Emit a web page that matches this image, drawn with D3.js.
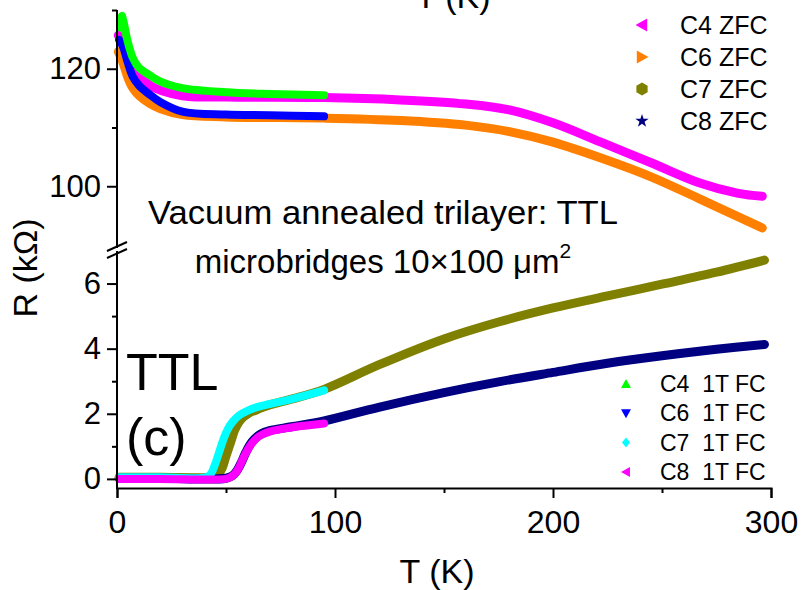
<!DOCTYPE html>
<html><head><meta charset="utf-8">
<script src="https://cdn.jsdelivr.net/npm/d3@7"></script>
<style>body{margin:0;background:#fff}svg{display:block}text{font-family:"Liberation Sans",Arial,sans-serif;fill:#000;white-space:pre}</style>
</head><body><svg id="c" width="803" height="590"></svg>
<script>
// ---- data ----
const xTicks = [0, 100, 200, 300];
const xMinor = [50, 150, 250];
const upperTicks = [100, 120];
const upperMinor = [110, 130];
const lowerTicks = [0, 2, 4, 6];
const lowerMinor = [1, 3, 5];

// upper panel (R in kOhm)
const c4zfcT = [0.6, 2.8, 7.3, 15, 30, 50, 95, 130, 160, 180, 200, 222, 245, 267, 285, 296];
const c4zfcR = [125.7, 124.3, 120.3, 117.2, 115.4, 115.2, 115.1, 114.7, 114.0, 113.0, 110.8, 107.5, 104.0, 100.6, 98.8, 98.3];
const c6zfcT = [0.6, 2.8, 5, 7.3, 10, 15, 20, 30, 50, 95, 130, 160, 180, 200, 222, 245, 267, 296];
const c6zfcR = [122.9, 121, 118.5, 116.7, 115.5, 114.1, 113.2, 112.2, 111.8, 111.6, 111.2, 110.4, 109.3, 107.5, 104.8, 101.6, 97.9, 92.9];
const c4fcT = [1.5, 2.2, 3, 5, 7.3, 10, 15, 20, 30, 50, 70, 95];
const c4fcR = [127, 129, 128, 124.5, 121.8, 120.2, 118.9, 117.8, 116.7, 116.0, 115.7, 115.5];
const c6fcT = [1, 2.8, 5, 7.3, 10, 15, 20, 30, 50, 70, 95];
const c6fcR = [124.9, 123.7, 121, 118.6, 117.2, 115.6, 114.3, 112.7, 112.2, 112.1, 111.9];

// lower panel
const c7zfcT = [1, 20, 44, 46, 48, 50, 52, 54, 56, 58, 60, 65, 70, 80, 95, 120, 150, 175, 200, 225, 250, 275, 297];
const c7zfcR = [0.05, 0.05, 0.05, 0.1, 0.3, 0.7, 1.1, 1.5, 1.75, 1.9, 2.0, 2.15, 2.27, 2.45, 2.75, 3.5, 4.3, 4.82, 5.25, 5.62, 5.98, 6.35, 6.72];
const c8zfcT = [1, 20, 50, 53, 55, 57, 59, 61, 63, 66, 70, 80, 95, 120, 150, 175, 200, 225, 250, 275, 297];
const c8zfcR = [0.02, 0.02, 0.02, 0.1, 0.25, 0.5, 0.8, 1.05, 1.22, 1.38, 1.48, 1.6, 1.78, 2.2, 2.65, 2.98, 3.27, 3.55, 3.78, 3.98, 4.13];
const c7fcT = [1, 20, 41, 43, 45, 47, 49, 51, 53, 56, 60, 65, 70, 80, 95];
const c7fcR = [0.05, 0.05, 0.05, 0.15, 0.45, 0.85, 1.25, 1.55, 1.75, 1.95, 2.1, 2.22, 2.3, 2.45, 2.72];
const c8fcT = [1, 20, 50, 52, 54, 56, 58, 60, 62, 65, 70, 80, 95];
const c8fcR = [0, 0, 0, 0.05, 0.15, 0.35, 0.65, 0.9, 1.1, 1.3, 1.45, 1.58, 1.7];

const legendTop = [
  {name: "C4 ZFC", color: "#ff00ff", sym: "left"},
  {name: "C6 ZFC", color: "#ff8000", sym: "right"},
  {name: "C7 ZFC", color: "#808000", sym: "hex"},
  {name: "C8 ZFC", color: "#000080", sym: "star"}
];
const legendBottom = [
  {name: "C4  1T FC", color: "#00ff00", sym: "up"},
  {name: "C6  1T FC", color: "#0000ff", sym: "down"},
  {name: "C7  1T FC", color: "#00ffff", sym: "diamond"},
  {name: "C8  1T FC", color: "#ff00ff", sym: "left"}
];

// ---- drawing ----
const svg = d3.select("#c");
const x = d3.scaleLinear().domain([0, 300]).range([117, 771]);
const yU = d3.scaleLinear().domain([90, 130]).range([245, 10]);
const yL = d3.scaleLinear().domain([-0.28, 7]).range([488, 251]);

function zip(T, R) { return T.map((t, i) => [t, R[i]]); }
function drawCurve(T, R, y, color, w) {
  const line = d3.line().x(d => x(d[0])).y(d => y(d[1])).curve(d3.curveCatmullRom.alpha(0.5));
  svg.append("path").attr("d", line(zip(T, R))).attr("fill", "none")
    .attr("stroke", color).attr("stroke-width", w).attr("stroke-linecap", "round").attr("stroke-linejoin", "round");
}

drawCurve(c6zfcT, c6zfcR, yU, "#ff8000", 9);
drawCurve(c4zfcT, c4zfcR, yU, "#ff00ff", 9);
drawCurve(c6fcT, c6fcR, yU, "#0000ff", 8);
drawCurve(c4fcT, c4fcR, yU, "#00ff00", 8);

drawCurve(c7zfcT, c7zfcR, yL, "#808000", 9);
drawCurve(c8zfcT, c8zfcR, yL, "#000080", 9);
drawCurve(c7fcT, c7fcR, yL, "#00ffff", 8);
drawCurve(c8fcT, c8fcR, yL, "#ff00ff", 8);

// axes
const FONT = "Liberation Sans, Arial, sans-serif";
const gx = svg.append("g").attr("transform", "translate(0,488)");
gx.call(d3.axisBottom(x).tickValues(xTicks).tickSize(10).tickFormat(d3.format("d")));
const gxm = svg.append("g").attr("transform", "translate(0,488)");
gxm.call(d3.axisBottom(x).tickValues(xMinor).tickSize(5).tickFormat(""));
gxm.select(".domain").remove();
gx.selectAll("text").attr("font-size", 32).attr("dy", "0").attr("y", 45).attr("font-family", FONT);

const gyU = svg.append("g").attr("transform", "translate(117,0)");
gyU.call(d3.axisLeft(yU).tickValues(upperTicks).tickSize(10).tickFormat(d3.format("d")));
const gyUm = svg.append("g").attr("transform", "translate(117,0)");
gyUm.call(d3.axisLeft(yU).tickValues(upperMinor).tickSize(5).tickFormat(""));
gyUm.select(".domain").remove();

const gyL = svg.append("g").attr("transform", "translate(117,0)");
gyL.call(d3.axisLeft(yL).tickValues(lowerTicks).tickSize(10).tickFormat(d3.format("d")));
const gyLm = svg.append("g").attr("transform", "translate(117,0)");
gyLm.call(d3.axisLeft(yL).tickValues(lowerMinor).tickSize(5).tickFormat(""));
gyLm.select(".domain").remove();

[gx, gxm, gyU, gyUm, gyL, gyLm].forEach(g => {
  g.selectAll("path.domain").attr("stroke", "#000").attr("stroke-width", 2);
  g.selectAll("line").attr("stroke", "#000").attr("stroke-width", 2);
});
[gyU, gyL].forEach(g => {
  g.selectAll("path.domain").remove();
  g.selectAll("text").attr("font-size", 31).attr("x", -16).attr("font-family", FONT);
});
// axis lines with break
svg.append("line").attr("x1", 117).attr("x2", 117).attr("y1", yU.range()[1]).attr("y2", 248).attr("stroke", "#000").attr("stroke-width", 2);
svg.append("line").attr("x1", 117).attr("x2", 117).attr("y1", 251).attr("y2", 489).attr("stroke", "#000").attr("stroke-width", 2);
// break marks
svg.append("line").attr("x1", 107).attr("y1", 251).attr("x2", 127).attr("y2", 242).attr("stroke", "#000").attr("stroke-width", 2);
svg.append("line").attr("x1", 107).attr("y1", 258).attr("x2", 127).attr("y2", 249).attr("stroke", "#000").attr("stroke-width", 2);

// axis titles
svg.append("text").attr("x", 437).attr("y", 583).attr("text-anchor", "middle").attr("font-size", 34).text("T (K)");
svg.append("text").attr("x", 453).attr("y", 8).attr("text-anchor", "middle").attr("font-size", 34).text("T (K)");
svg.append("text").attr("transform", "translate(37,268) rotate(-90)").attr("text-anchor", "middle").attr("font-size", 34).text("R (k\u03A9)");

// annotations
svg.append("text").attr("x", 148).attr("y", 224).attr("font-size", 33)
  .attr("textLength", 470).attr("lengthAdjust", "spacingAndGlyphs").text("Vacuum annealed trilayer: TTL");
const t2 = svg.append("text").attr("x", 383).attr("y", 273).attr("text-anchor", "middle").attr("font-size", 33);
t2.append("tspan").text("microbridges 10\u00D7100 \u03BCm");
t2.append("tspan").attr("font-size", 21).attr("dy", -15).text("2");
svg.append("text").attr("x", 126).attr("y", 390).attr("font-size", 52).text("TTL");
svg.append("text").attr("x", 126).attr("y", 455).attr("font-size", 52).text("(c)");

// legend symbols
function sym(kind, s) {
  switch (kind) {
    case "left": return `M${-s},0L${s*0.8},${-s}L${s*0.8},${s}Z`;
    case "right": return `M${s},0L${-s*0.8},${-s}L${-s*0.8},${s}Z`;
    case "up": return `M0,${-s}L${s},${s*0.8}L${-s},${s*0.8}Z`;
    case "down": return `M0,${s}L${s},${-s*0.8}L${-s},${-s*0.8}Z`;
    case "diamond": return `M0,${-s}L${s*0.8},0L0,${s}L${-s*0.8},0Z`;
    case "hex": {
      const p = d3.range(6).map(i => { const a = Math.PI/6 + i*Math.PI/3; return [s*Math.cos(a), s*Math.sin(a)]; });
      return "M" + p.map(q => q.join(",")).join("L") + "Z";
    }
    case "star": return d3.symbol(d3.symbolStar, s*s*1.3)();
  }
}
legendTop.forEach((d, i) => {
  const cy = 25 + i * 32;
  svg.append("path").attr("d", sym(d.sym, 6.5)).attr("transform", `translate(642,${cy})`).attr("fill", d.color);
  svg.append("text").attr("x", 680).attr("y", cy + 9).attr("font-size", 25).text(d.name);
});
legendBottom.forEach((d, i) => {
  const cy = 384 + i * 29.3;
  svg.append("path").attr("d", sym(d.sym, 5)).attr("transform", `translate(626,${cy})`).attr("fill", d.color);
  svg.append("text").attr("x", 660).attr("y", cy + 8).attr("font-size", 23).text(d.name);
});
</script></body></html>
